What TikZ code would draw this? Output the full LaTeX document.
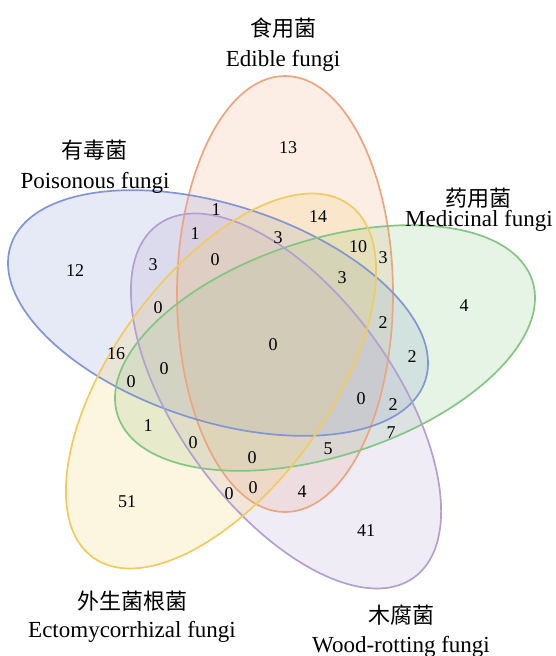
\documentclass[tikz,border=0pt]{standalone}
\usepackage{fontspec}
\setmainfont{Liberation Serif}
\newfontfamily\cjk{Noto Sans CJK SC}
\definecolor{orangeC}{RGB}{238,165,125}
\definecolor{blueC}{RGB}{130,150,212}
\definecolor{greenC}{RGB}{130,198,130}
\definecolor{yellowC}{RGB}{242,203,95}
\definecolor{purpleC}{RGB}{180,160,208}
\begin{document}
\begin{tikzpicture}[x=1pt,y=-1pt,
  setfill/.style={fill=#1,fill opacity=0.2,draw=none},
  setline/.style={draw=#1,line width=1.7pt},
  num/.style={font=\fontsize{18}{20}\selectfont,inner sep=0pt},
  zh/.style={font=\cjk\fontsize{22}{26}\selectfont,inner sep=0pt},
  en/.style={font=\fontsize{23}{26}\selectfont,inner sep=0pt,anchor=base}]
\useasboundingbox (0,0) rectangle (556,656);
% fills
\path[setfill=orangeC] (285,294) ellipse [x radius=108pt, y radius=218pt];
\path[setfill=blueC, rotate around={-18:(218,313)}] (218,313) ellipse [x radius=218pt, y radius=108pt];
\path[setfill=greenC, rotate around={18:(325,348)}] (325,348) ellipse [x radius=218pt, y radius=108pt];
\path[setfill=purpleC, rotate around={-54:(286,401)}] (286,401) ellipse [x radius=218pt, y radius=108pt];
\path[setfill=yellowC, rotate around={54:(221,381)}] (221,381) ellipse [x radius=218pt, y radius=108pt];
% outlines
\path[setline=orangeC] (285,294) ellipse [x radius=108pt, y radius=218pt];
\path[setline=blueC, rotate around={-18:(218,313)}] (218,313) ellipse [x radius=218pt, y radius=108pt];
\path[setline=greenC, rotate around={18:(325,348)}] (325,348) ellipse [x radius=218pt, y radius=108pt];
\path[setline=purpleC, rotate around={-54:(286,401)}] (286,401) ellipse [x radius=218pt, y radius=108pt];
\path[setline=yellowC, rotate around={54:(221,381)}] (221,381) ellipse [x radius=218pt, y radius=108pt];
% set labels
\node[zh] (edz) at (283,28) {食用菌};
\node[en] (ede) at (283,66) {Edible fungi};
\node[zh] (poz) at (94,150) {有毒菌};
\node[en] (poe) at (95,188) {Poisonous fungi};
\node[zh] (mez) at (478,198) {药用菌};
\node[en] (mee) at (479,226) {Medicinal fungi};
\node[zh] (ecz) at (132,601) {外生菌根菌};
\node[en] (ece) at (132,637) {Ectomycorrhizal fungi};
\node[zh] (woz) at (401,615) {木腐菌};
\node[en] (woe) at (401,652) {Wood-rotting fungi};
% region counts
\node[num] (n1) at (288,148) {13};
\node[num] (n2) at (318,217) {14};
\node[num] (n3) at (216,210) {1};
\node[num] (n4) at (195,234) {1};
\node[num] (n5) at (278,238) {3};
\node[num] (n6) at (358,247) {10};
\node[num] (n7) at (383,258) {3};
\node[num] (n8) at (153,265) {3};
\node[num] (n9) at (215,260) {0};
\node[num] (n10) at (342,278) {3};
\node[num] (n11) at (158,308) {0};
\node[num] (n12) at (383,323) {2};
\node[num] (n13) at (116,354) {16};
\node[num] (n14) at (273,345) {0};
\node[num] (n15) at (412,357) {2};
\node[num] (n16) at (164,369) {0};
\node[num] (n17) at (131,382) {0};
\node[num] (n18) at (361,399) {0};
\node[num] (n19) at (393,405) {2};
\node[num] (n20) at (148,426) {1};
\node[num] (n21) at (391,433) {7};
\node[num] (n22) at (193,443) {0};
\node[num] (n23) at (328,449) {5};
\node[num] (n24) at (252,458) {0};
\node[num] (n25) at (229,494) {0};
\node[num] (n26) at (253,488) {0};
\node[num] (n27) at (302,492) {4};
\node[num] (n28) at (127,502) {51};
\node[num] (n29) at (75,271) {12};
\node[num] (n30) at (464,306) {4};
\node[num] (n31) at (366,531) {41};
\end{tikzpicture}
\end{document}
